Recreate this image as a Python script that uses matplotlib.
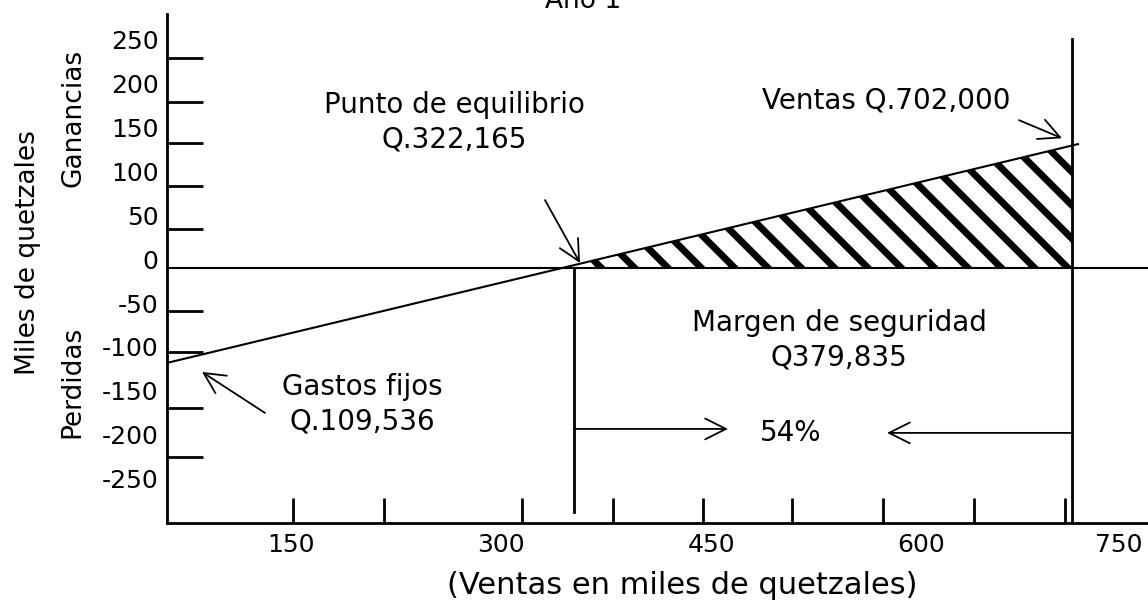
import numpy as np
import matplotlib
matplotlib.use("Agg")
import matplotlib.pyplot as plt
from matplotlib.ticker import FixedLocator
from matplotlib.transforms import ScaledTranslation

plt.rcParams['font.family'] = ['DejaVu Sans']
plt.rcParams['hatch.linewidth'] = 5.0

# ---- data (thousands of quetzales) ----
x_tick_labels = [150, 300, 450, 600, 750]
y_tick_labels = [-250, -200, -150, -100, -50, 0, 50, 100, 150, 200, 250]
x_marks = [151, 216, 315, 380, 444, 508, 573, 638, 703]
y_marks = [239, 189, 142, 93, 45, -49, -95, -159, -215]
line_x = [61, 712]          # ventas
line_y = [-108, 141]        # resultado (ganancia / perdida)
breakeven_x = 352
sales_x = 708
x_limits = [61.3, 762]
y_limits = [-290, 289]

fig = plt.figure(figsize=(11.48, 6.04), dpi=100)
ax = fig.add_axes([167/1148, 81/604, 981/1148, 509/604])
ax.set_xlim(*x_limits)
ax.set_ylim(*y_limits)

for s in ['top', 'right']:
    ax.spines[s].set_visible(False)
for s in ['left', 'bottom']:
    ax.spines[s].set_linewidth(2)

# ticks: labels (major, no mark) + marks (minor, inward)
ax.xaxis.set_major_locator(FixedLocator(x_tick_labels))
ax.yaxis.set_major_locator(FixedLocator(y_tick_labels))
ax.xaxis.set_minor_locator(FixedLocator(x_marks))
ax.yaxis.set_minor_locator(FixedLocator(y_marks))
ax.set_xticklabels([str(v) for v in x_tick_labels])
ax.set_yticklabels([str(v) for v in y_tick_labels])
ax.tick_params(which='major', length=0, labelsize=18)
ax.tick_params(axis='x', which='major', pad=7)
ax.tick_params(axis='y', which='major', pad=6)
ax.tick_params(axis='x', which='minor', direction='in', length=18, width=2)
ax.tick_params(axis='y', which='minor', direction='in', length=26, width=2)
off = ScaledTranslation(0, 9/100, fig.dpi_scale_trans)
for lab in ax.get_yticklabels():
    lab.set_transform(lab.get_transform() + off)
last = ax.get_xticklabels()[-1]
last.set_transform(last.get_transform() + ScaledTranslation(-12/100, 0, fig.dpi_scale_trans))

# zero line
ax.axhline(0, color='black', lw=1.5)

# profit line
ax.plot(line_x, line_y, color='black', lw=1.5)

# hatched profit area
slope = (line_y[1] - line_y[0]) / (line_x[1] - line_x[0])
x0 = line_x[0] - line_y[0] / slope
xf = np.linspace(x0, sales_x, 100)
yf = np.interp(xf, line_x, line_y)
ax.fill_between(xf, 0, yf, facecolor='none', edgecolor='black', hatch='\\', linewidth=0)

# vertical lines
ax.plot([breakeven_x, breakeven_x], [0, -278], color='black', lw=2)
ax.plot([sales_x, sales_x], [261, y_limits[0]], color='black', lw=2)

arrow = dict(arrowstyle='->,head_length=0.6,head_width=0.3', lw=1.3,
             color='black', mutation_scale=25, shrinkA=0, shrinkB=0)
fs = 20

ax.text(266.6, 165.9, 'Punto de equilibrio\nQ.322,165', ha='center', va='center',
        fontsize=fs, linespacing=1.3)
ax.annotate('', xy=(356.3, 5.7), xytext=(331.3, 77.3), arrowprops=arrow)

ax.text(574.9, 190.9, 'Ventas Q.702,000', ha='center', va='center', fontsize=fs)
ax.annotate('', xy=(700.6, 147.7), xytext=(669.9, 168.2), arrowprops=arrow)

ax.text(541.3, -81.8, 'Margen de seguridad\nQ379,835', ha='center', va='center',
        fontsize=fs, linespacing=1.3)
ax.text(506.9, -187.5, '54%', ha='center', va='center', fontsize=fs)
ax.annotate('', xy=(462.0, -183), xytext=(breakeven_x, -183), arrowprops=arrow)
ax.annotate('', xy=(575.6, -187.5), xytext=(sales_x, -187.5), arrowprops=arrow)

ax.text(200.7, -155.1, 'Gastos fijos\nQ.109,536', ha='center', va='center',
        fontsize=fs, linespacing=1.3)
ax.annotate('', xy=(86.3, -118.2), xytext=(131.3, -164.8), arrowprops=arrow)

# axis titles
fig.text(682/1148, 1 - 585/604, '(Ventas en miles de quetzales)', ha='center',
         va='center', fontsize=22)
fig.text(28/1148, 1 - 253/604, 'Miles de quetzales', rotation=90, ha='center',
         va='center', fontsize=19)
fig.text(73/1148, 1 - 118/604, 'Ganancias', rotation=90, ha='center',
         va='center', fontsize=19)
fig.text(72/1148, 1 - 382/604, 'Perdidas', rotation=90, ha='center',
         va='center', fontsize=19)
fig.text(583/1148, 1 - 8/604, 'Año 1', ha='center', va='baseline', fontsize=19)

fig.savefig('out.png', dpi=100)
